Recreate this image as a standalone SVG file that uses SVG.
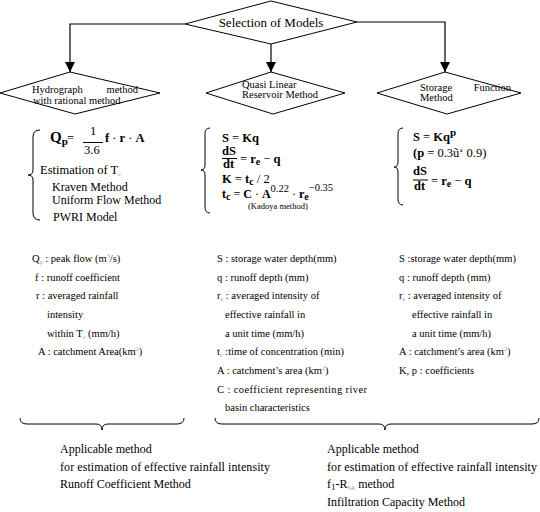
<svg xmlns="http://www.w3.org/2000/svg" width="540" height="512" viewBox="0 0 540 512" font-family="'Liberation Serif', 'DejaVu Serif', 'Times New Roman', serif">
<style>
text{font-family:'Liberation Serif','DejaVu Serif','Times New Roman',serif;fill:#000}
.n{font-size:10.5px}
.t{font-size:13px}
.f{font-size:12.5px}
.b{font-weight:bold}
.d{font-size:10.5px}
.m{font-size:12px}
.s{font-size:6px;fill:#999}
.br{fill:none;stroke:#000;stroke-width:1}
.sh{fill:#fff;stroke:#000;stroke-width:1}
.ln{fill:none;stroke:#000;stroke-width:1.2}
</style>
<defs>
<marker id="ah" viewBox="0 0 10 10" refX="10" refY="5" markerWidth="10" markerHeight="10" markerUnits="userSpaceOnUse" orient="auto">
<path d="M0,0 L10,5 L0,10 Z" fill="#000"/>
</marker>
</defs>
<rect width="540" height="512" fill="#fff"/>
<g id="connectors">
<path class="ln" d="M185,24 L70,24 L70,72" marker-end="url(#ah)"/>
<path class="ln" d="M271,44 L271,72" marker-end="url(#ah)"/>
<path class="ln" d="M357,22 L445,22 L445,72" marker-end="url(#ah)"/>
</g>
<g id="selection">
<polygon class="sh" points="271,1 357,22 271,44 185,24"/>
<text class="t" x="271" y="27" text-anchor="middle">Selection of Models</text>
</g>
<g id="hydrograph">
<polygon class="sh" points="70,72 160,93 75,114 0,93"/>
<text class="n" x="32" y="93">Hydrograph</text>
<text class="n" x="138" y="93" text-anchor="end">method</text>
<text class="n" x="33" y="104">with rational method</text>
</g>
<g id="quasi">
<polygon class="sh" points="271,72 345,93 273,114 206,93"/>
<text class="n" x="242" y="88">Quasi Linear</text>
<text class="n" x="242" y="98">Reservoir Method</text>
</g>
<g id="storage">
<polygon class="sh" points="445,72 521,93 447,114 377,93"/>
<text class="n" x="420" y="91">Storage</text>
<text class="n" x="511" y="91" text-anchor="end">Function</text>
<text class="n" x="420" y="101">Method</text>
</g>
<g id="hydro-formula">
<path class="br" d="M40,130 Q33,130 33,137 L33,170 Q33,175 28,175 Q33,175 33,180 L33,213 Q33,220 40,220"/>
<text x="50" y="142" style="font-size:15px" class="b">Q<tspan style="font-size:11px" dy="3">p</tspan></text>
<text x="67" y="142" class="f">=</text>
<text x="90" y="135" class="f">1</text>
<line x1="83" y1="142.5" x2="103" y2="142.5" stroke="#000"/>
<text x="84" y="154" class="f">3.6</text>
<text x="105" y="142" class="f"><tspan class="b">f</tspan> · <tspan class="b">r</tspan> · <tspan class="b">A</tspan></text>
<text x="40" y="174" class="f">Estimation of T<tspan class="s" dy="2">c</tspan></text>
<text x="52" y="190.5" class="m">Kraven Method</text>
<text x="52" y="204" class="m">Uniform Flow Method</text>
<text x="53" y="221" class="m">PWRI Model</text>
</g>
<g id="quasi-formula">
<path class="br" d="M210,128 Q205,128 205,134 L205,165 Q205,170 201,170 Q205,170 205,175 L205,207 Q205,213 210,213"/>
<text x="222" y="142" class="f"><tspan class="b">S</tspan> = <tspan class="b">Kq</tspan></text>
<text x="222" y="155" class="f b">dS</text>
<line x1="222" y1="158.5" x2="237" y2="158.5" stroke="#000"/>
<text x="223" y="168" class="f b">dt</text>
<text x="240" y="163" class="f">= <tspan class="b">r</tspan><tspan class="b" style="font-size:10px" dy="2">e</tspan><tspan dy="-2"> − </tspan><tspan class="b">q</tspan></text>
<text x="222" y="183" class="f"><tspan class="b">K</tspan> = <tspan class="b">t</tspan><tspan class="b" style="font-size:10px" dy="2">c</tspan><tspan dy="-2">  / 2</tspan></text>
<text x="222" y="198" style="font-size:12px"><tspan class="b">t</tspan><tspan class="b" style="font-size:10px" dy="2">c</tspan><tspan dy="-2"> = </tspan><tspan class="b">C</tspan> · <tspan class="b">A</tspan><tspan style="font-size:10.5px" dy="-6">0.22</tspan><tspan dy="6"> · </tspan><tspan class="b">r</tspan><tspan class="b" style="font-size:10px" dy="2">e</tspan><tspan style="font-size:10.5px" dy="-9">−0.35</tspan></text>
<text x="248" y="209" style="font-size:8.5px">(Kadoya method)</text>
</g>
<g id="storage-formula">
<path class="br" d="M403,128 Q398,128 398,134 L398,162 Q398,167 394,167 Q398,167 398,172 L398,199 Q398,205 403,205"/>
<text x="413" y="141" class="f"><tspan class="b">S</tspan> = <tspan class="b">Kq</tspan><tspan class="b" style="font-size:11px" dy="-5">p</tspan></text>
<text x="413" y="157" class="f"><tspan class="b">(p</tspan> = 0.3ũ‘ 0.9)</text>
<text x="413" y="175" class="f b">dS</text>
<line x1="413" y1="180" x2="428" y2="180" stroke="#000"/>
<text x="414" y="190" class="f b">dt</text>
<text x="431" y="185" class="f">= <tspan class="b">r</tspan><tspan class="b" style="font-size:10px" dy="2">e</tspan><tspan dy="-2"> − </tspan><tspan class="b">q</tspan></text>
</g>
<g id="hydro-defs">
<text class="d" x="32" y="262">Q<tspan class="s" dy="2">p</tspan><tspan dy="-2"> : peak flow (m</tspan><tspan class="s" dy="-4">3</tspan><tspan dy="4">/s)</tspan></text>
<text class="d" x="35" y="280.5">f : runoff coefficient</text>
<text class="d" x="36" y="299">r : averaged rainfall</text>
<text class="d" x="47" y="318">intensity</text>
<text class="d" x="47" y="336.5">within T<tspan class="s" dy="2">c</tspan><tspan dy="-2"> (mm/h)</tspan></text>
<text class="d" x="38" y="355">A : catchment Area(km<tspan class="s" dy="-4">2</tspan><tspan dy="4">)</tspan></text>
</g>
<g id="quasi-defs">
<text class="d" x="217" y="262">S : storage water depth(mm)</text>
<text class="d" x="217" y="280.5">q : runoff depth (mm)</text>
<text class="d" x="217" y="299">r<tspan class="s" dy="2">e</tspan><tspan dy="-2"> : averaged intensity of</tspan></text>
<text class="d" x="225" y="318">effective rainfall in</text>
<text class="d" x="225" y="336.5">a unit time (mm/h)</text>
<text class="d" x="217" y="355">t<tspan class="s" dy="2">c</tspan><tspan dy="-2"> :time of concentration (min)</tspan></text>
<text class="d" x="217" y="374">A : catchment’s area (km<tspan class="s" dy="-4">2</tspan><tspan dy="4">)</tspan></text>
<text class="d" x="217" y="392.5" textLength="150" lengthAdjust="spacing">C : coefficient representing river</text>
<text class="d" x="225" y="411">basin characteristics</text>
</g>
<g id="storage-defs">
<text class="d" x="399" y="262">S :storage water depth(mm)</text>
<text class="d" x="399" y="280.5">q : runoff depth (mm)</text>
<text class="d" x="399" y="299">r<tspan class="s" dy="2">e</tspan><tspan dy="-2"> : averaged intensity of</tspan></text>
<text class="d" x="412" y="318">effective rainfall in</text>
<text class="d" x="412" y="336.5">a unit   time (mm/h)</text>
<text class="d" x="399" y="355">A : catchment’s area (km<tspan class="s" dy="-4">2</tspan><tspan dy="4">)</tspan></text>
<text class="d" x="399" y="374">K, p : coefficients</text>
</g>
<g id="runoff-method">
<path class="br" d="M20,418 Q20,424 27,424 L96,424 Q102,424 102,430 Q102,424 108,424 L177,424 Q184,424 184,418"/>
<text class="m" x="60" y="453">Applicable method</text>
<text class="m" x="60" y="471" textLength="210" lengthAdjust="spacing">for estimation of effective rainfall intensity</text>
<text class="m" x="60" y="488">Runoff Coefficient Method</text>
</g>
<g id="infiltration-method">
<path class="br" d="M215,418 Q215,424 222,424 L379,424 Q385,424 385,430 Q385,424 391,424 L532,424 Q539,424 539,418"/>
<text class="m" x="327" y="453">Applicable method</text>
<text class="m" x="327" y="471" textLength="210" lengthAdjust="spacing">for estimation of effective rainfall intensity</text>
<text class="m" x="327" y="488">f<tspan style="font-size:9px" dy="2">1</tspan><tspan dy="-2">-R</tspan><tspan class="s" dy="2">SA</tspan><tspan dy="-2"> method</tspan></text>
<text class="m" x="327" y="506">Infiltration Capacity Method</text>
</g>
</svg>
